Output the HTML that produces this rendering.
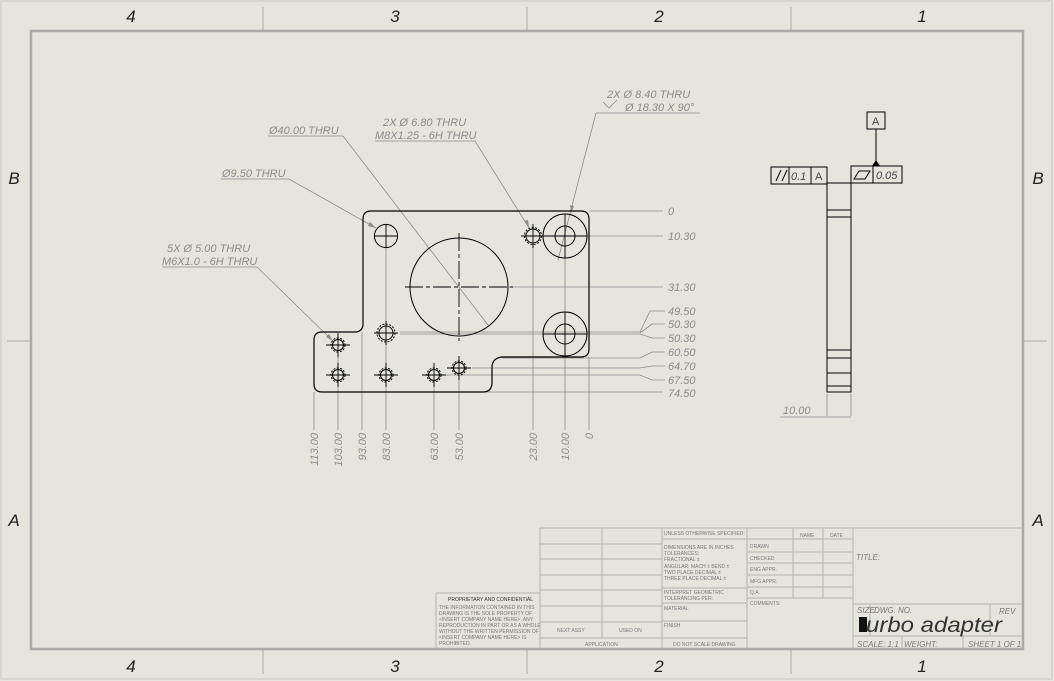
<!DOCTYPE html>
<html><head><meta charset="utf-8"><style>
html,body{margin:0;padding:0;background:#e6e5dc;}
svg{display:block;}
.d{font-family:"Liberation Sans",sans-serif;font-style:italic;fill:#8a8a8a;font-size:11px;}
.z{font-family:"Liberation Sans",sans-serif;font-style:italic;fill:#222;font-size:17px;}
.t{font-family:"Liberation Sans",sans-serif;fill:#777;font-size:5px;}
.tb{font-family:"Liberation Sans",sans-serif;font-style:italic;fill:#777;font-size:8px;}
</style></head><body>
<svg width="1054" height="681" viewBox="0 0 1054 681" xmlns="http://www.w3.org/2000/svg">
<rect x="0" y="0" width="1054" height="681" fill="#e6e5dc"/>
<rect x="1" y="1" width="1051" height="678" fill="none" stroke="#c8c8c0" stroke-width="1"/>
<rect x="31" y="31" width="992" height="618" fill="none" stroke="#aaaaa4" stroke-width="2.5"/>
<g stroke="#aaaaa4" stroke-width="1">
<line x1="263" y1="7" x2="263" y2="31"/><line x1="527" y1="7" x2="527" y2="31"/><line x1="791" y1="7" x2="791" y2="31"/>
<line x1="263" y1="650" x2="263" y2="674"/><line x1="527" y1="650" x2="527" y2="674"/><line x1="791" y1="650" x2="791" y2="674"/>
<line x1="7" y1="341" x2="31" y2="341"/><line x1="1023" y1="341" x2="1047" y2="341"/>
</g>
<g class="z" text-anchor="middle">
<text x="131" y="22">4</text><text x="395" y="22">3</text><text x="659" y="22">2</text><text x="922" y="22">1</text>
<text x="131" y="672">4</text><text x="395" y="672">3</text><text x="659" y="672">2</text><text x="922" y="672">1</text>
<text x="14" y="184">B</text><text x="1038" y="184">B</text><text x="14" y="526">A</text><text x="1038" y="526">A</text>
</g>

<g stroke="#8a8a8a" stroke-width="0.8" fill="none">
<line x1="589" y1="211" x2="663" y2="211"/>
<line x1="588" y1="236" x2="663" y2="236"/>
<line x1="509" y1="287" x2="663" y2="287"/>
<line x1="400" y1="332" x2="640" y2="332"/>
<line x1="400" y1="334" x2="640" y2="334"/>
<polyline points="640,332 650,311 665,311"/>
<polyline points="640,333 652,324 665,324"/>
<polyline points="640,334 652,338 665,338"/>
<polyline points="502,358 640,358 652,352 665,352"/>
<polyline points="472,368 640,368 652,366 665,366"/>
<polyline points="440,375 640,375 652,380 665,380"/>
<line x1="485" y1="392" x2="663" y2="392"/>
<line x1="314" y1="392" x2="314" y2="430"/>
<line x1="338" y1="355" x2="338" y2="430"/>
<line x1="362" y1="332" x2="362" y2="430"/>
<line x1="386" y1="248" x2="386" y2="430"/>
<line x1="434" y1="384" x2="434" y2="430"/>
<line x1="459" y1="376" x2="459" y2="430"/>
<line x1="533" y1="244" x2="533" y2="430"/>
<line x1="565" y1="246" x2="565" y2="430"/>
<line x1="589" y1="357" x2="589" y2="430"/>
<polyline points="268,136 343,136 488,325"/>
<polyline points="221,179 289,179 376,228"/>
<polyline points="375,141 475,141 529,228"/>
<polyline points="596,113 700,113"/>
<line x1="596" y1="113" x2="558" y2="260"/>
<polyline points="162,267 257,267 333,341"/>
</g>
<g fill="#8a8a8a">
<polygon points="376,228 368,226 370,222"/>
<polygon points="529,228 524,221 528,220"/>
<polygon points="571,213 570,205 574,206"/>
<polygon points="333,341 326,337 329,334"/>
</g>
<g class="d">
<text x="668" y="215">0</text><text x="668" y="240">10.30</text><text x="668" y="291">31.30</text>
<text x="668" y="315">49.50</text><text x="668" y="328">50.30</text><text x="668" y="342">50.30</text>
<text x="668" y="356">60.50</text><text x="668" y="370">64.70</text><text x="668" y="384">67.50</text><text x="668" y="397">74.50</text>
<text x="269" y="134">Ø40.00 THRU</text>
<text x="222" y="177">Ø9.50 THRU</text>
<text x="383" y="126">2X  Ø 6.80 THRU</text>
<text x="375" y="139">M8X1.25 - 6H THRU</text>
<text x="607" y="98">2X  Ø 8.40 THRU</text>
<text x="625" y="111">Ø 18.30 X 90°</text>
<text x="167" y="252">5X  Ø 5.00 THRU</text>
<text x="162" y="265">M6X1.0 - 6H THRU</text>
<text x="783" y="414">10.00</text>
</g>
<g stroke="#8a8a8a" stroke-width="0.8" fill="none"><polyline points="603,102 609,108 617,100"/></g>
<g class="d" text-anchor="end">
<text transform="translate(318,433) rotate(-90)">113.00</text>
<text transform="translate(342,433) rotate(-90)">103.00</text>
<text transform="translate(366,433) rotate(-90)">93.00</text>
<text transform="translate(390,433) rotate(-90)">83.00</text>
<text transform="translate(438,433) rotate(-90)">63.00</text>
<text transform="translate(463,433) rotate(-90)">53.00</text>
<text transform="translate(537,433) rotate(-90)">23.00</text>
<text transform="translate(569,433) rotate(-90)">10.00</text>
<text transform="translate(593,433) rotate(-90)">0</text>
</g>

<g stroke="#000" stroke-width="1.2" fill="none">
<path d="M371,211 H581 Q589,211 589,219 V349 Q589,357 581,357 H502 Q493,358 492,366 V384 Q491,392 483,392 H322 Q314,392 314,384 V340 Q314,332 322,332 H356 Q363,331 363,324 V219 Q363,211 371,211 Z"/>
</g>
<g stroke="#000" stroke-width="1" fill="none">
<circle cx="386" cy="236" r="11.6"/>
<circle cx="459" cy="287" r="49"/>
<circle cx="533" cy="236" r="7"/><circle cx="533" cy="236" r="8.5" stroke-dasharray="2,1.5"/>
<circle cx="565" cy="236" r="10"/><circle cx="565" cy="236" r="22"/>
<circle cx="565" cy="334" r="10"/><circle cx="565" cy="334" r="22"/>
<circle cx="386" cy="333" r="7"/><circle cx="386" cy="333" r="9" stroke-dasharray="2,1.5"/>
<circle cx="338" cy="345" r="5.5"/><circle cx="338" cy="345" r="7" stroke-dasharray="2,1.5"/>
<circle cx="338" cy="375" r="5.5"/><circle cx="338" cy="375" r="7" stroke-dasharray="2,1.5"/>
<circle cx="386" cy="375" r="5.5"/><circle cx="386" cy="375" r="7" stroke-dasharray="2,1.5"/>
<circle cx="434" cy="375" r="5.5"/><circle cx="434" cy="375" r="7" stroke-dasharray="2,1.5"/>
<circle cx="459" cy="368" r="5.5"/><circle cx="459" cy="368" r="7" stroke-dasharray="2,1.5"/>
</g>
<g stroke="#000" stroke-width="0.9" fill="none">
<path d="M374,236h24M386,224v24M521,236h24M533,224v24M543,236h44M565,214v44M543,334h44M565,312v44M374,333h24M386,321v24M326,345h24M338,333v24M326,375h24M338,363v24M374,375h24M386,363v24M422,375h24M434,363v24M447,368h24M459,356v24"/>
<path d="M405,287h108M459,233v108" stroke-dasharray="18,3,4,3"/>
</g>

<g stroke="#000" stroke-width="1" fill="none">
<rect x="827" y="183" width="24" height="209"/>
<path d="M827,210h24M827,217h24M827,350h24M827,358h24M827,373h24M827,386h24"/>
<rect x="771" y="167" width="56" height="17"/>
<path d="M789,167v17M811,167v17"/>
<path d="M776,181l5,-11M782,181l5,-11"/>
<rect x="851" y="166" width="51" height="17"/>
<path d="M873,166v17"/>
<path d="M854,179l5,-8h11l-5,8z"/>
<rect x="867" y="112" width="18" height="17"/>
<path d="M876,129v37"/>
</g>
<polygon points="872,166 880,166 876,160" fill="#000"/>
<g font-family="Liberation Sans,sans-serif" font-size="11" fill="#444">
<text x="791" y="180" font-style="italic">0.1</text><text x="815" y="180">A</text>
<text x="876" y="179" font-style="italic">0.05</text><text x="872" y="125">A</text>
</g>
<g stroke="#8a8a8a" stroke-width="0.8" fill="none">
<path d="M827,394v22M851,394v22M780,417h71"/>
</g>

<g stroke="#b4b4ac" stroke-width="1" fill="none">
<path d="M540,528H1023M540,528V648M602,528V638M662,528V648M747,528V648M793,528V598M823,528V598M853,528V648"/>
<path d="M540,544H662M540,559H662M540,575H662M540,590H662M540,606H662M540,622H662M540,638H747"/>
<path d="M662,539H747M662,588H747M662,603H747M662,621H747"/>
<path d="M747,539H853M747,552H853M747,563H853M747,575H853M747,587H853M747,598H853"/>
<path d="M853,604H1023M853,636H1023M870,604V636M990,604V636M902,636V648M963,636V648"/>
<path d="M436,593H540M436,593V648"/>
</g>
<g class="t">
<text x="664" y="535">UNLESS OTHERWISE SPECIFIED:</text>
<text x="800" y="537">NAME</text><text x="830" y="537">DATE</text>
<text x="664" y="549">DIMENSIONS ARE IN INCHES</text>
<text x="664" y="555">TOLERANCES:</text>
<text x="664" y="561">FRACTIONAL ±</text>
<text x="664" y="568">ANGULAR: MACH ±    BEND ±</text>
<text x="664" y="574">TWO PLACE DECIMAL    ±</text>
<text x="664" y="580">THREE PLACE DECIMAL  ±</text>
<text x="664" y="594">INTERPRET GEOMETRIC</text>
<text x="664" y="600">TOLERANCING PER:</text>
<text x="664" y="610">MATERIAL</text>
<text x="664" y="627">FINISH</text>
<text x="673" y="646">DO NOT SCALE DRAWING</text>
<text x="750" y="548">DRAWN</text><text x="750" y="560">CHECKED</text><text x="750" y="571">ENG APPR.</text>
<text x="750" y="583">MFG APPR.</text><text x="750" y="594">Q.A.</text><text x="750" y="605">COMMENTS:</text>
<text x="557" y="632">NEXT ASSY</text><text x="619" y="632">USED ON</text>
<text x="585" y="646">APPLICATION</text>
<text x="448" y="601" fill="#333">PROPRIETARY AND CONFIDENTIAL</text>
<text x="439" y="609">THE INFORMATION CONTAINED IN THIS</text>
<text x="439" y="615">DRAWING IS THE SOLE PROPERTY OF</text>
<text x="439" y="621">&lt;INSERT COMPANY NAME HERE&gt;. ANY</text>
<text x="439" y="627">REPRODUCTION IN PART OR AS A WHOLE</text>
<text x="439" y="633">WITHOUT THE WRITTEN PERMISSION OF</text>
<text x="439" y="639">&lt;INSERT COMPANY NAME HERE&gt; IS</text>
<text x="439" y="645">PROHIBITED.</text>
</g>
<g class="tb">
<text x="856" y="560">TITLE:</text>
<text x="857" y="613">SIZE</text><text x="874" y="613">DWG.  NO.</text><text x="999" y="614">REV</text>
<text x="857" y="647">SCALE: 1:1</text><text x="904" y="647">WEIGHT:</text><text x="968" y="647">SHEET 1 OF 1</text>
</g>
<rect x="859" y="617" width="8" height="15" fill="#111"/>
<text x="866" y="632" font-family="Liberation Sans,sans-serif" font-style="italic" font-size="21" fill="#333" textLength="136" lengthAdjust="spacingAndGlyphs">urbo adapter</text>
</svg>
</body></html>
